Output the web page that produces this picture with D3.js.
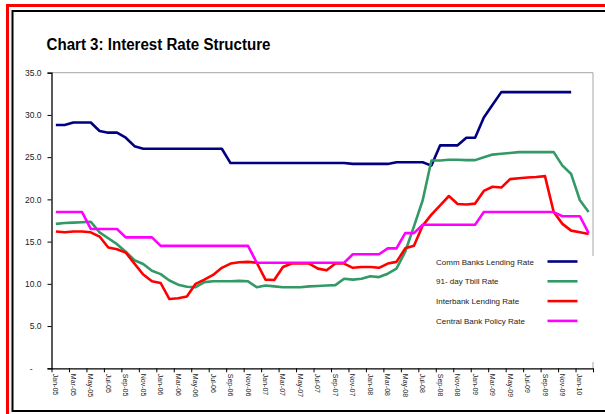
<!DOCTYPE html>
<html>
<head>
<meta charset="utf-8">
<script src="https://cdn.jsdelivr.net/npm/d3@7"></script>
<style>
  body { margin: 0; background: #fff; }
  svg { display: block; font-family: "Liberation Sans", Arial, sans-serif; }
</style>
</head>
<body>
<div id="chart"></div>
<script>
'use strict';

// Monthly categories, Jan-05 .. Feb-10
var months = [
  'Jan-05','Feb-05','Mar-05','Apr-05','May-05','Jun-05','Jul-05','Aug-05','Sep-05','Oct-05','Nov-05','Dec-05',
  'Jan-06','Feb-06','Mar-06','Apr-06','May-06','Jun-06','Jul-06','Aug-06','Sep-06','Oct-06','Nov-06','Dec-06',
  'Jan-07','Feb-07','Mar-07','Apr-07','May-07','Jun-07','Jul-07','Aug-07','Sep-07','Oct-07','Nov-07','Dec-07',
  'Jan-08','Feb-08','Mar-08','Apr-08','May-08','Jun-08','Jul-08','Aug-08','Sep-08','Oct-08','Nov-08','Dec-08',
  'Jan-09','Feb-09','Mar-09','Apr-09','May-09','Jun-09','Jul-09','Aug-09','Sep-09','Oct-09','Nov-09','Dec-09',
  'Jan-10','Feb-10'
];

var commBankRate = [
  28.8, 28.8, 29.1, 29.1, 29.1, 28.1, 27.9, 27.9, 27.3, 26.3, 26.0, 26.0,
  26.0, 26.0, 26.0, 26.0, 26.0, 26.0, 26.0, 26.0, 24.3, 24.3, 24.3, 24.3,
  24.3, 24.3, 24.3, 24.3, 24.3, 24.3, 24.3, 24.3, 24.3, 24.3, 24.2, 24.2,
  24.2, 24.2, 24.2, 24.4, 24.4, 24.4, 24.4, 24.0, 26.4, 26.4, 26.4, 27.3,
  27.3, 29.7, 31.2, 32.7, 32.7, 32.7, 32.7, 32.7, 32.7, 32.7, 32.7, 32.7,
  null, null
];

var tbillRate = [
  17.1, 17.2, 17.25, 17.3, 17.35, 16.1, 15.4, 14.7, 13.8, 12.8, 12.35, 11.55,
  11.15, 10.4, 9.9, 9.65, 9.6, 10.2, 10.3, 10.3, 10.3, 10.35, 10.3, 9.6,
  9.8, 9.7, 9.6, 9.6, 9.6, 9.7, 9.75, 9.8, 9.85, 10.6, 10.5, 10.6,
  10.9, 10.8, 11.2, 11.8, 13.8, 16.8, 19.9, 24.6, 24.6, 24.7, 24.7, 24.65,
  24.65, 25.0, 25.3, 25.4, 25.5, 25.6, 25.6, 25.6, 25.6, 25.6, 24.0, 23.0,
  19.9, 18.5
];

var interbankRate = [
  16.2, 16.1, 16.2, 16.2, 16.1, 15.6, 14.3, 14.1, 13.7, 12.4, 11.1, 10.3,
  10.1, 8.2, 8.3, 8.5, 10.0, 10.5, 11.05, 11.9, 12.4, 12.55, 12.6, 12.5,
  10.5, 10.45, 12.0, 12.4, 12.4, 12.4, 11.8, 11.6, 12.4, 12.4, 11.9, 12.0,
  12.0, 11.9, 12.4, 12.6, 14.2, 14.5, 16.9, 18.2, 19.3, 20.4, 19.45, 19.4,
  19.5, 21.0, 21.5, 21.4, 22.4, 22.5, 22.6, 22.65, 22.75, 18.5, 17.1, 16.3,
  16.1, 15.9
];

var policyRate = [
  18.5, 18.5, 18.5, 18.5, 16.5, 16.5, 16.5, 16.5, 15.5, 15.5, 15.5, 15.5,
  14.5, 14.5, 14.5, 14.5, 14.5, 14.5, 14.5, 14.5, 14.5, 14.5, 14.5, 12.5,
  12.5, 12.5, 12.5, 12.5, 12.5, 12.5, 12.5, 12.5, 12.5, 12.5, 13.5, 13.5,
  13.5, 13.5, 14.2, 14.2, 16.0, 16.0, 17.0, 17.0, 17.0, 17.0, 17.0, 17.0,
  17.0, 18.5, 18.5, 18.5, 18.5, 18.5, 18.5, 18.5, 18.5, 18.5, 18.0, 18.0,
  18.0, 16.0
];

var yTicks = [0, 5, 10, 15, 20, 25, 30, 35];

var seriesNames = ['Comm Banks Lending Rate', '91- day Tbill Rate', 'Interbank Lending Rate', 'Central Bank Policy Rate'];
var seriesValues = [commBankRate, tbillRate, interbankRate, policyRate];
var seriesColors = ['#000080', '#339966', '#ff0000', '#ff00ff'];

var width = 605, height = 414;
var plot = { left: 51.5, right: 593, top: 72.7, bottom: 368.3 };

var svg = d3.select('#chart').append('svg')
  .attr('width', width)
  .attr('height', height);

// Outer frames
svg.append('rect')
  .attr('x', 7.5).attr('y', 5.5)
  .attr('width', 620).attr('height', 411)
  .attr('fill', 'none').attr('stroke', '#ff0000').attr('stroke-width', 3);
svg.append('rect')
  .attr('x', 12.5).attr('y', 11)
  .attr('width', 610).attr('height', 400)
  .attr('fill', 'none').attr('stroke', '#000').attr('stroke-width', 2);

// Title
svg.append('text')
  .attr('x', 46.5).attr('y', 50)
  .attr('font-size', 16)
  .attr('font-weight', 'bold')
  .attr('textLength', 224)
  .attr('lengthAdjust', 'spacingAndGlyphs')
  .text('Chart 3: Interest Rate Structure');

var x = d3.scaleBand()
  .domain(months)
  .range([plot.left, plot.right])
  .paddingInner(0).paddingOuter(0);

var xTicks = d3.scaleLinear()
  .domain([0, months.length])
  .range([plot.left, plot.right]);

var y = d3.scaleLinear()
  .domain([0, 35])
  .range([plot.bottom, plot.top]);

// Plot area border (top/right, gray)
svg.append('path')
  .attr('d', 'M' + plot.left + ',' + plot.top + 'H' + plot.right + 'V' + plot.bottom)
  .attr('fill', 'none').attr('stroke', '#a6a6a6').attr('stroke-width', 1);

// Series lines
var line = d3.line()
  .defined(function(d) { return d != null; })
  .x(function(d, i) { return x(months[i]) + x.bandwidth() / 2; })
  .y(function(d) { return y(d); });

seriesValues.forEach(function(values, k) {
  svg.append('path')
    .datum(values)
    .attr('fill', 'none')
    .attr('stroke', seriesColors[k])
    .attr('stroke-width', 2.6)
    .attr('stroke-linejoin', 'round')
    .attr('d', line);
});

// Y axis
var yAxis = svg.append('g')
  .attr('transform', 'translate(' + plot.left + ',0)')
  .call(d3.axisLeft(y)
    .tickValues(yTicks)
    .tickSize(4)
    .tickPadding(6)
    .tickFormat(function(d) { return d === 0 ? '-' : d.toFixed(1); }));
yAxis.select('.domain').attr('stroke', '#000').attr('stroke-width', 1.3);
yAxis.selectAll('.tick line').attr('stroke', '#000');
yAxis.selectAll('.tick text')
  .attr('font-size', 8.5)
  .attr('font-family', '"Liberation Sans", Arial, sans-serif')
  .attr('fill', '#222')
  .attr('dx', function(d) { return d === 0 ? -9 : 0; });

// X axis: tick marks every two months on category boundaries
var xTickAxis = svg.append('g')
  .attr('transform', 'translate(0,' + plot.bottom + ')')
  .call(d3.axisBottom(xTicks)
    .tickValues(d3.range(0, months.length + 1, 2))
    .tickSize(4)
    .tickSizeOuter(0)
    .tickFormat(''));
xTickAxis.select('.domain').attr('stroke', '#000').attr('stroke-width', 1.3);
xTickAxis.selectAll('.tick line').attr('stroke', '#000');

// X labels centred in every other category, rotated
var xLabelAxis = svg.append('g')
  .attr('transform', 'translate(0,' + plot.bottom + ')')
  .call(d3.axisBottom(x)
    .tickValues(months.filter(function(m, i) { return i % 2 === 0; }))
    .tickSize(0));
xLabelAxis.select('.domain').remove();
xLabelAxis.selectAll('.tick text')
  .attr('transform', 'rotate(90)')
  .attr('x', 5.5)
  .attr('y', 0)
  .attr('dy', '0.35em')
  .attr('text-anchor', 'start')
  .attr('font-size', 7)
  .attr('font-family', '"Liberation Sans", Arial, sans-serif')
  .attr('fill', '#222');

// Legend
var legend = svg.append('g');
legend.append('rect')
  .attr('x', 429).attr('y', 256)
  .attr('width', 170).attr('height', 106)
  .attr('fill', '#fff');
seriesNames.forEach(function(name, k) {
  var ly = 261.5 + k * 19.8;
  legend.append('text')
    .attr('x', 436).attr('y', ly + 3)
    .attr('font-size', 8)
    .attr('fill', '#222')
    .text(name);
  legend.append('line')
    .attr('x1', 547.5).attr('x2', 577.5)
    .attr('y1', ly).attr('y2', ly)
    .attr('stroke', seriesColors[k])
    .attr('stroke-width', 2.6);
});
</script>
</body>
</html>
